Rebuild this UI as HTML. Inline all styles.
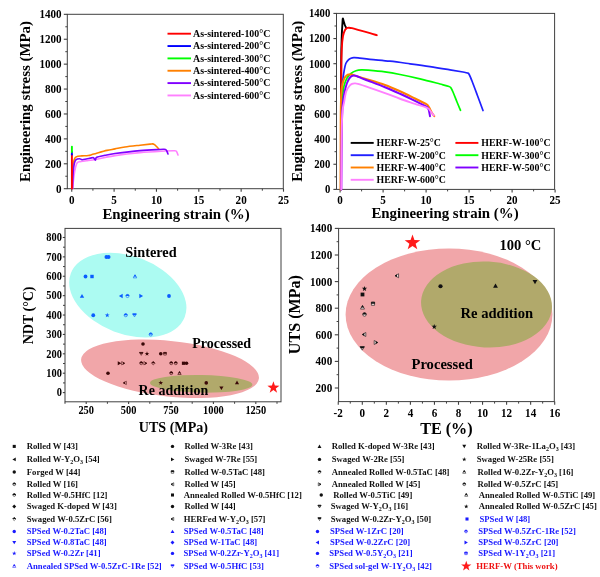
<!DOCTYPE html>
<html><head><meta charset="utf-8"><title>figure</title>
<style>html,body{margin:0;padding:0;background:#fff;}svg{display:block;filter:blur(0.4px);}</style></head><body>
<svg width="600" height="577" viewBox="0 0 600 577" font-family="Liberation Serif" font-weight="bold">
<rect x="0" y="0" width="600" height="577" fill="#fff"/>
<rect x="67.3" y="14.3" width="216.0" height="174.39999999999998" fill="none" stroke="#404040" stroke-width="1.0"/>
<line x1="63.8" y1="188.70" x2="67.3" y2="188.70" stroke="#404040" stroke-width="1.1"/>
<text transform="translate(61.60,192.66) scale(1,1.15)" font-size="11.1" text-anchor="end" fill="#000" >0</text>
<line x1="63.8" y1="163.79" x2="67.3" y2="163.79" stroke="#404040" stroke-width="1.1"/>
<text transform="translate(61.60,167.75) scale(1,1.15)" font-size="11.1" text-anchor="end" fill="#000" >200</text>
<line x1="63.8" y1="138.88" x2="67.3" y2="138.88" stroke="#404040" stroke-width="1.1"/>
<text transform="translate(61.60,142.84) scale(1,1.15)" font-size="11.1" text-anchor="end" fill="#000" >400</text>
<line x1="63.8" y1="113.97" x2="67.3" y2="113.97" stroke="#404040" stroke-width="1.1"/>
<text transform="translate(61.60,117.93) scale(1,1.15)" font-size="11.1" text-anchor="end" fill="#000" >600</text>
<line x1="63.8" y1="89.06" x2="67.3" y2="89.06" stroke="#404040" stroke-width="1.1"/>
<text transform="translate(61.60,93.02) scale(1,1.15)" font-size="11.1" text-anchor="end" fill="#000" >800</text>
<line x1="63.8" y1="64.15" x2="67.3" y2="64.15" stroke="#404040" stroke-width="1.1"/>
<text transform="translate(61.60,68.11) scale(1,1.15)" font-size="11.1" text-anchor="end" fill="#000" >1000</text>
<line x1="63.8" y1="39.24" x2="67.3" y2="39.24" stroke="#404040" stroke-width="1.1"/>
<text transform="translate(61.60,43.20) scale(1,1.15)" font-size="11.1" text-anchor="end" fill="#000" >1200</text>
<line x1="63.8" y1="14.33" x2="67.3" y2="14.33" stroke="#404040" stroke-width="1.1"/>
<text transform="translate(61.60,18.29) scale(1,1.15)" font-size="11.1" text-anchor="end" fill="#000" >1400</text>
<line x1="65.3" y1="176.24" x2="67.3" y2="176.24" stroke="#404040" stroke-width="1"/>
<line x1="65.3" y1="151.33" x2="67.3" y2="151.33" stroke="#404040" stroke-width="1"/>
<line x1="65.3" y1="126.42" x2="67.3" y2="126.42" stroke="#404040" stroke-width="1"/>
<line x1="65.3" y1="101.51" x2="67.3" y2="101.51" stroke="#404040" stroke-width="1"/>
<line x1="65.3" y1="76.60" x2="67.3" y2="76.60" stroke="#404040" stroke-width="1"/>
<line x1="65.3" y1="51.69" x2="67.3" y2="51.69" stroke="#404040" stroke-width="1"/>
<line x1="65.3" y1="26.78" x2="67.3" y2="26.78" stroke="#404040" stroke-width="1"/>
<line x1="71.75" y1="188.7" x2="71.75" y2="191.7" stroke="#404040" stroke-width="1.1"/>
<text transform="translate(71.75,203.56) scale(1,1.15)" font-size="11.1" text-anchor="middle" fill="#000" >0</text>
<line x1="114.10" y1="188.7" x2="114.10" y2="191.7" stroke="#404040" stroke-width="1.1"/>
<text transform="translate(114.10,203.56) scale(1,1.15)" font-size="11.1" text-anchor="middle" fill="#000" >5</text>
<line x1="156.45" y1="188.7" x2="156.45" y2="191.7" stroke="#404040" stroke-width="1.1"/>
<text transform="translate(156.45,203.56) scale(1,1.15)" font-size="11.1" text-anchor="middle" fill="#000" >10</text>
<line x1="198.80" y1="188.7" x2="198.80" y2="191.7" stroke="#404040" stroke-width="1.1"/>
<text transform="translate(198.80,203.56) scale(1,1.15)" font-size="11.1" text-anchor="middle" fill="#000" >15</text>
<line x1="241.15" y1="188.7" x2="241.15" y2="191.7" stroke="#404040" stroke-width="1.1"/>
<text transform="translate(241.15,203.56) scale(1,1.15)" font-size="11.1" text-anchor="middle" fill="#000" >20</text>
<line x1="283.50" y1="188.7" x2="283.50" y2="191.7" stroke="#404040" stroke-width="1.1"/>
<text transform="translate(283.50,203.56) scale(1,1.15)" font-size="11.1" text-anchor="middle" fill="#000" >25</text>
<line x1="92.92" y1="188.7" x2="92.92" y2="190.7" stroke="#404040" stroke-width="1"/>
<line x1="135.28" y1="188.7" x2="135.28" y2="190.7" stroke="#404040" stroke-width="1"/>
<line x1="177.62" y1="188.7" x2="177.62" y2="190.7" stroke="#404040" stroke-width="1"/>
<line x1="219.97" y1="188.7" x2="219.97" y2="190.7" stroke="#404040" stroke-width="1"/>
<line x1="262.33" y1="188.7" x2="262.33" y2="190.7" stroke="#404040" stroke-width="1"/>
<text x="176.00" y="219.00" font-size="14.9" text-anchor="middle" fill="#000" >Engineering strain (%)</text>
<text transform="translate(30.40,101.50) rotate(-90)" font-size="14.9" text-anchor="middle" fill="#000">Engineering stress (MPa)</text>
<path d="M72.30,188.50 C72.38,185.75 72.58,176.42 72.80,172.00 C73.02,167.58 73.18,164.40 73.60,162.00 C74.02,159.60 74.58,158.57 75.30,157.60 C76.02,156.63 76.78,156.48 77.90,156.20 C79.02,155.92 80.27,156.02 82.00,155.90 C83.73,155.78 86.63,155.72 88.30,155.50 C89.97,155.28 90.60,154.98 92.00,154.60 C93.40,154.22 94.20,153.90 96.70,153.20 C99.20,152.50 103.95,151.12 107.00,150.40 C110.05,149.68 112.00,149.47 115.00,148.90 C118.00,148.33 120.83,147.62 125.00,147.00 C129.17,146.38 135.83,145.68 140.00,145.20 C144.17,144.72 147.92,144.32 150.00,144.10 C152.08,143.88 151.75,143.82 152.50,143.90 C153.25,143.98 153.83,144.17 154.50,144.60 C155.17,145.03 155.78,145.77 156.50,146.50 C157.22,147.23 158.42,148.58 158.80,149.00" fill="none" stroke="#ff8000" stroke-width="1.6" stroke-linejoin="round" stroke-linecap="round"/>
<path d="M72.60,188.50 C72.83,186.42 73.50,179.58 74.00,176.00 C74.50,172.42 75.03,169.23 75.60,167.00 C76.17,164.77 76.67,163.50 77.40,162.60 C78.13,161.70 78.53,161.90 80.00,161.60 C81.47,161.30 83.47,161.20 86.25,160.80 C89.03,160.40 91.91,160.07 96.70,159.20 C101.49,158.33 107.78,156.70 115.00,155.60 C122.22,154.50 131.67,153.37 140.00,152.60 C148.33,151.83 159.25,151.32 165.00,151.00 C170.75,150.68 172.58,150.60 174.50,150.70 C176.42,150.80 175.92,150.88 176.50,151.60 C177.08,152.32 177.75,154.43 178.00,155.00" fill="none" stroke="#ff80ff" stroke-width="1.6" stroke-linejoin="round" stroke-linecap="round"/>
<path d="M72.50,188.50 C72.62,185.75 72.90,176.17 73.20,172.00 C73.50,167.83 73.87,165.53 74.30,163.50 C74.73,161.47 74.93,160.60 75.80,159.80 C76.67,159.00 78.47,158.72 79.50,158.70 C80.53,158.68 80.88,159.65 82.00,159.70 C83.12,159.75 84.67,159.30 86.25,159.00 C87.83,158.70 90.29,158.10 91.50,157.90 C92.71,157.70 92.85,157.43 93.50,157.80 C94.15,158.17 94.87,160.18 95.40,160.10 C95.93,160.02 95.10,158.10 96.70,157.30 C98.30,156.50 101.95,155.93 105.00,155.30 C108.05,154.67 109.17,154.28 115.00,153.50 C120.83,152.72 132.50,151.27 140.00,150.60 C147.50,149.93 155.75,149.70 160.00,149.50 C164.25,149.30 164.33,149.07 165.50,149.40 C166.67,149.73 166.58,150.73 167.00,151.50 C167.42,152.27 167.83,153.58 168.00,154.00" fill="none" stroke="#8000ff" stroke-width="1.6" stroke-linejoin="round" stroke-linecap="round"/>
<polyline points="71.90,188.50 71.90,154.60" fill="none" stroke="#ff0000" stroke-width="1.9" stroke-linejoin="round" stroke-linecap="round"/>
<polyline points="71.90,154.60 71.90,152.00" fill="none" stroke="#0000ff" stroke-width="1.9" stroke-linejoin="round" stroke-linecap="round"/>
<polyline points="71.90,152.00 71.90,146.80" fill="none" stroke="#00ff00" stroke-width="1.9" stroke-linejoin="round" stroke-linecap="round"/>
<line x1="167.5" y1="33.70" x2="191" y2="33.70" stroke="#ff0000" stroke-width="1.9"/>
<text x="193.00" y="37.00" font-size="9.9" text-anchor="start" fill="#000" >As-sintered-100°C</text>
<line x1="167.5" y1="46.05" x2="191" y2="46.05" stroke="#0000ff" stroke-width="1.9"/>
<text x="193.00" y="49.35" font-size="9.9" text-anchor="start" fill="#000" >As-sintered-200°C</text>
<line x1="167.5" y1="58.40" x2="191" y2="58.40" stroke="#00ff00" stroke-width="1.9"/>
<text x="193.00" y="61.70" font-size="9.9" text-anchor="start" fill="#000" >As-sintered-300°C</text>
<line x1="167.5" y1="70.75" x2="191" y2="70.75" stroke="#ff8000" stroke-width="1.9"/>
<text x="193.00" y="74.05" font-size="9.9" text-anchor="start" fill="#000" >As-sintered-400°C</text>
<line x1="167.5" y1="83.10" x2="191" y2="83.10" stroke="#8000ff" stroke-width="1.9"/>
<text x="193.00" y="86.40" font-size="9.9" text-anchor="start" fill="#000" >As-sintered-500°C</text>
<line x1="167.5" y1="95.45" x2="191" y2="95.45" stroke="#ff80ff" stroke-width="1.9"/>
<text x="193.00" y="98.75" font-size="9.9" text-anchor="start" fill="#000" >As-sintered-600°C</text>
<rect x="336.5" y="13.4" width="218.10000000000002" height="176.0" fill="none" stroke="#404040" stroke-width="1.0"/>
<line x1="333.4" y1="189.40" x2="336.5" y2="189.40" stroke="#404040" stroke-width="1.1"/>
<text transform="translate(330.30,193.23) scale(1,1.15)" font-size="10.7" text-anchor="end" fill="#000" >0</text>
<line x1="333.4" y1="164.26" x2="336.5" y2="164.26" stroke="#404040" stroke-width="1.1"/>
<text transform="translate(330.30,168.09) scale(1,1.15)" font-size="10.7" text-anchor="end" fill="#000" >200</text>
<line x1="333.4" y1="139.12" x2="336.5" y2="139.12" stroke="#404040" stroke-width="1.1"/>
<text transform="translate(330.30,142.95) scale(1,1.15)" font-size="10.7" text-anchor="end" fill="#000" >400</text>
<line x1="333.4" y1="113.98" x2="336.5" y2="113.98" stroke="#404040" stroke-width="1.1"/>
<text transform="translate(330.30,117.81) scale(1,1.15)" font-size="10.7" text-anchor="end" fill="#000" >600</text>
<line x1="333.4" y1="88.84" x2="336.5" y2="88.84" stroke="#404040" stroke-width="1.1"/>
<text transform="translate(330.30,92.67) scale(1,1.15)" font-size="10.7" text-anchor="end" fill="#000" >800</text>
<line x1="333.4" y1="63.70" x2="336.5" y2="63.70" stroke="#404040" stroke-width="1.1"/>
<text transform="translate(330.30,67.53) scale(1,1.15)" font-size="10.7" text-anchor="end" fill="#000" >1000</text>
<line x1="333.4" y1="38.56" x2="336.5" y2="38.56" stroke="#404040" stroke-width="1.1"/>
<text transform="translate(330.30,42.39) scale(1,1.15)" font-size="10.7" text-anchor="end" fill="#000" >1200</text>
<line x1="333.4" y1="13.42" x2="336.5" y2="13.42" stroke="#404040" stroke-width="1.1"/>
<text transform="translate(330.30,17.25) scale(1,1.15)" font-size="10.7" text-anchor="end" fill="#000" >1400</text>
<line x1="334.5" y1="176.83" x2="336.5" y2="176.83" stroke="#404040" stroke-width="1"/>
<line x1="334.5" y1="151.69" x2="336.5" y2="151.69" stroke="#404040" stroke-width="1"/>
<line x1="334.5" y1="126.55" x2="336.5" y2="126.55" stroke="#404040" stroke-width="1"/>
<line x1="334.5" y1="101.41" x2="336.5" y2="101.41" stroke="#404040" stroke-width="1"/>
<line x1="334.5" y1="76.27" x2="336.5" y2="76.27" stroke="#404040" stroke-width="1"/>
<line x1="334.5" y1="51.13" x2="336.5" y2="51.13" stroke="#404040" stroke-width="1"/>
<line x1="334.5" y1="25.99" x2="336.5" y2="25.99" stroke="#404040" stroke-width="1"/>
<line x1="340.10" y1="189.4" x2="340.10" y2="192.4" stroke="#404040" stroke-width="1.1"/>
<text transform="translate(340.10,204.26) scale(1,1.15)" font-size="11.1" text-anchor="middle" fill="#000" >0</text>
<line x1="383.10" y1="189.4" x2="383.10" y2="192.4" stroke="#404040" stroke-width="1.1"/>
<text transform="translate(383.10,204.26) scale(1,1.15)" font-size="11.1" text-anchor="middle" fill="#000" >5</text>
<line x1="426.10" y1="189.4" x2="426.10" y2="192.4" stroke="#404040" stroke-width="1.1"/>
<text transform="translate(426.10,204.26) scale(1,1.15)" font-size="11.1" text-anchor="middle" fill="#000" >10</text>
<line x1="469.10" y1="189.4" x2="469.10" y2="192.4" stroke="#404040" stroke-width="1.1"/>
<text transform="translate(469.10,204.26) scale(1,1.15)" font-size="11.1" text-anchor="middle" fill="#000" >15</text>
<line x1="512.10" y1="189.4" x2="512.10" y2="192.4" stroke="#404040" stroke-width="1.1"/>
<text transform="translate(512.10,204.26) scale(1,1.15)" font-size="11.1" text-anchor="middle" fill="#000" >20</text>
<line x1="555.10" y1="189.4" x2="555.10" y2="192.4" stroke="#404040" stroke-width="1.1"/>
<text transform="translate(555.10,204.26) scale(1,1.15)" font-size="11.1" text-anchor="middle" fill="#000" >25</text>
<line x1="361.60" y1="189.4" x2="361.60" y2="191.4" stroke="#404040" stroke-width="1"/>
<line x1="404.60" y1="189.4" x2="404.60" y2="191.4" stroke="#404040" stroke-width="1"/>
<line x1="447.60" y1="189.4" x2="447.60" y2="191.4" stroke="#404040" stroke-width="1"/>
<line x1="490.60" y1="189.4" x2="490.60" y2="191.4" stroke="#404040" stroke-width="1"/>
<line x1="533.60" y1="189.4" x2="533.60" y2="191.4" stroke="#404040" stroke-width="1"/>
<text x="445.00" y="217.50" font-size="14.9" text-anchor="middle" fill="#000" >Engineering strain (%)</text>
<text transform="translate(301.70,101.20) rotate(-90)" font-size="14.9" text-anchor="middle" fill="#000">Engineering stress (MPa)</text>
<path d="M340.90,189.40 C340.92,177.83 340.95,141.57 341.00,120.00 C341.05,98.43 341.07,74.17 341.20,60.00 C341.33,45.83 341.60,41.00 341.80,35.00 C342.00,29.00 342.23,26.73 342.40,24.00 C342.57,21.27 342.60,19.10 342.80,18.60 C343.00,18.10 343.27,19.93 343.60,21.00 C343.93,22.07 344.37,23.88 344.80,25.00 C345.23,26.12 345.97,27.25 346.20,27.70" fill="none" stroke="#000000" stroke-width="1.9" stroke-linejoin="round" stroke-linecap="round"/>
<path d="M340.90,189.40 C340.93,177.83 341.03,139.90 341.10,120.00 C341.17,100.10 341.18,82.00 341.30,70.00 C341.42,58.00 341.52,53.67 341.80,48.00 C342.08,42.33 342.47,39.00 343.00,36.00 C343.53,33.00 344.33,31.33 345.00,30.00 C345.67,28.67 346.33,28.38 347.00,28.00 C347.67,27.62 348.17,27.67 349.00,27.70 C349.83,27.73 350.17,27.75 352.00,28.20 C353.83,28.65 357.00,29.57 360.00,30.40 C363.00,31.23 367.20,32.40 370.00,33.20 C372.80,34.00 375.67,34.87 376.80,35.20" fill="none" stroke="#ff0000" stroke-width="1.9" stroke-linejoin="round" stroke-linecap="round"/>
<path d="M340.90,189.40 C340.97,177.83 341.13,136.57 341.30,120.00 C341.47,103.43 341.67,96.53 341.90,90.00 C342.13,83.47 342.32,84.07 342.70,80.80 C343.08,77.53 343.68,73.28 344.20,70.40 C344.72,67.52 345.10,65.27 345.80,63.50 C346.50,61.73 347.53,60.68 348.40,59.80 C349.27,58.92 350.10,58.57 351.00,58.20 C351.90,57.83 352.63,57.67 353.80,57.60 C354.97,57.53 355.30,57.52 358.00,57.80 C360.70,58.08 364.67,58.73 370.00,59.30 C375.33,59.87 383.33,60.45 390.00,61.20 C396.67,61.95 403.33,62.90 410.00,63.80 C416.67,64.70 423.33,65.60 430.00,66.60 C436.67,67.60 444.50,68.90 450.00,69.80 C455.50,70.70 460.08,71.47 463.00,72.00 C465.92,72.53 466.47,72.58 467.50,73.00 C468.53,73.42 468.45,73.17 469.20,74.50 C469.95,75.83 470.53,77.25 472.00,81.00 C473.47,84.75 476.17,92.08 478.00,97.00 C479.83,101.92 482.17,108.25 483.00,110.50" fill="none" stroke="#2020ff" stroke-width="1.7" stroke-linejoin="round" stroke-linecap="round"/>
<path d="M340.90,189.40 C340.98,179.50 341.17,144.90 341.40,130.00 C341.63,115.10 341.87,107.33 342.30,100.00 C342.73,92.67 343.22,89.67 344.00,86.00 C344.78,82.33 345.83,80.08 347.00,78.00 C348.17,75.92 349.50,74.70 351.00,73.50 C352.50,72.30 354.27,71.40 356.00,70.80 C357.73,70.20 359.40,70.00 361.40,69.90 C363.40,69.80 364.07,69.86 368.00,70.20 C371.93,70.54 379.67,71.23 385.00,71.95 C390.33,72.67 394.17,73.36 400.00,74.50 C405.83,75.64 413.33,77.22 420.00,78.80 C426.67,80.38 435.17,82.72 440.00,84.00 C444.83,85.28 447.17,85.83 449.00,86.50 C450.83,87.17 450.33,87.08 451.00,88.00 C451.67,88.92 452.00,89.67 453.00,92.00 C454.00,94.33 455.75,98.95 457.00,102.00 C458.25,105.05 459.92,108.92 460.50,110.30" fill="none" stroke="#00ff00" stroke-width="1.7" stroke-linejoin="round" stroke-linecap="round"/>
<path d="M340.60,189.40 C340.62,177.83 340.60,135.73 340.70,120.00 C340.80,104.27 340.90,101.00 341.20,95.00 C341.50,89.00 341.95,86.83 342.50,84.00 C343.05,81.17 343.75,79.47 344.50,78.00 C345.25,76.53 346.27,75.78 347.00,75.20 C347.73,74.62 348.23,74.65 348.90,74.55 C349.57,74.45 349.98,74.42 351.00,74.60 C352.02,74.77 352.67,74.93 355.00,75.60 C357.33,76.27 360.00,77.04 365.00,78.60 C370.00,80.16 379.17,82.84 385.00,84.95 C390.83,87.06 395.00,88.99 400.00,91.25 C405.00,93.51 410.83,96.46 415.00,98.50 C419.17,100.54 422.92,102.42 425.00,103.50 C427.08,104.58 426.75,104.25 427.50,105.00 C428.25,105.75 428.75,106.67 429.50,108.00 C430.25,109.33 431.20,111.63 432.00,113.00 C432.80,114.37 433.92,115.67 434.30,116.20" fill="none" stroke="#ff8000" stroke-width="2.0" stroke-linejoin="round" stroke-linecap="round"/>
<path d="M341.30,189.40 C341.42,177.83 341.68,134.90 342.00,120.00 C342.32,105.10 342.74,104.80 343.20,100.00 C343.66,95.20 344.12,94.03 344.75,91.20 C345.38,88.37 346.12,85.28 347.00,83.00 C347.88,80.72 348.90,78.73 350.00,77.50 C351.10,76.27 352.43,75.82 353.60,75.60 C354.77,75.38 355.10,75.55 357.00,76.20 C358.90,76.85 360.33,77.67 365.00,79.50 C369.67,81.33 379.17,84.83 385.00,87.20 C390.83,89.58 395.00,91.48 400.00,93.75 C405.00,96.02 410.83,98.76 415.00,100.80 C419.17,102.84 422.92,104.88 425.00,106.00 C427.08,107.12 426.87,106.83 427.50,107.50 C428.13,108.17 428.38,108.55 428.80,110.00 C429.22,111.45 429.80,115.17 430.00,116.20" fill="none" stroke="#8000ff" stroke-width="2.0" stroke-linejoin="round" stroke-linecap="round"/>
<path d="M341.30,189.40 C341.42,177.83 341.52,134.63 342.00,120.00 C342.48,105.37 343.48,106.40 344.20,101.60 C344.92,96.80 345.43,93.80 346.30,91.20 C347.17,88.60 348.45,87.22 349.40,86.00 C350.35,84.78 351.13,84.33 352.00,83.90 C352.87,83.47 353.60,83.40 354.60,83.40 C355.60,83.40 355.43,83.17 358.00,83.90 C360.57,84.63 365.50,86.28 370.00,87.80 C374.50,89.32 380.00,91.22 385.00,93.05 C390.00,94.88 395.00,96.96 400.00,98.75 C405.00,100.54 410.42,102.26 415.00,103.80 C419.58,105.34 425.00,106.88 427.50,108.00 C430.00,109.12 428.95,109.25 430.00,110.50 C431.05,111.75 433.17,114.67 433.80,115.50" fill="none" stroke="#ff80ff" stroke-width="1.9" stroke-linejoin="round" stroke-linecap="round"/>
<line x1="350.7" y1="142.90" x2="373.7" y2="142.90" stroke="#000000" stroke-width="1.9"/>
<text x="376.60" y="146.20" font-size="9.85" text-anchor="start" fill="#000" >HERF-W-25°C</text>
<line x1="455.4" y1="142.90" x2="478.4" y2="142.90" stroke="#ff0000" stroke-width="1.9"/>
<text x="481.30" y="146.20" font-size="9.85" text-anchor="start" fill="#000" >HERF-W-100°C</text>
<line x1="350.7" y1="155.20" x2="373.7" y2="155.20" stroke="#2020ff" stroke-width="1.9"/>
<text x="376.60" y="158.50" font-size="9.85" text-anchor="start" fill="#000" >HERF-W-200°C</text>
<line x1="455.4" y1="155.20" x2="478.4" y2="155.20" stroke="#00ff00" stroke-width="1.9"/>
<text x="481.30" y="158.50" font-size="9.85" text-anchor="start" fill="#000" >HERF-W-300°C</text>
<line x1="350.7" y1="167.50" x2="373.7" y2="167.50" stroke="#ff8000" stroke-width="1.9"/>
<text x="376.60" y="170.80" font-size="9.85" text-anchor="start" fill="#000" >HERF-W-400°C</text>
<line x1="455.4" y1="167.50" x2="478.4" y2="167.50" stroke="#8000ff" stroke-width="1.9"/>
<text x="481.30" y="170.80" font-size="9.85" text-anchor="start" fill="#000" >HERF-W-500°C</text>
<line x1="350.7" y1="179.80" x2="373.7" y2="179.80" stroke="#ff80ff" stroke-width="1.9"/>
<text x="376.60" y="183.10" font-size="9.85" text-anchor="start" fill="#000" >HERF-W-600°C</text>
<rect x="65" y="228.4" width="216" height="173.4" fill="none" stroke="#404040" stroke-width="1.0"/>
<ellipse cx="127.8" cy="295.1" rx="61" ry="38.9" transform="rotate(21 127.8 295.1)" fill="#acfbf2"/>
<ellipse cx="170" cy="368.8" rx="89.4" ry="27.8" transform="rotate(6.2 170 369)" fill="#f1a6a9"/>
<ellipse cx="201.2" cy="383.8" rx="51.2" ry="8.8" transform="rotate(1 201.2 383.8)" fill="#b1a96b"/>
<line x1="62.8" y1="392.60" x2="65" y2="392.60" stroke="#404040" stroke-width="1.1"/>
<text transform="translate(61.90,396.33) scale(1,1.15)" font-size="10.4" text-anchor="end" fill="#000" >0</text>
<line x1="62.8" y1="373.21" x2="65" y2="373.21" stroke="#404040" stroke-width="1.1"/>
<text transform="translate(61.90,376.94) scale(1,1.15)" font-size="10.4" text-anchor="end" fill="#000" >100</text>
<line x1="62.8" y1="353.82" x2="65" y2="353.82" stroke="#404040" stroke-width="1.1"/>
<text transform="translate(61.90,357.55) scale(1,1.15)" font-size="10.4" text-anchor="end" fill="#000" >200</text>
<line x1="62.8" y1="334.43" x2="65" y2="334.43" stroke="#404040" stroke-width="1.1"/>
<text transform="translate(61.90,338.16) scale(1,1.15)" font-size="10.4" text-anchor="end" fill="#000" >300</text>
<line x1="62.8" y1="315.04" x2="65" y2="315.04" stroke="#404040" stroke-width="1.1"/>
<text transform="translate(61.90,318.77) scale(1,1.15)" font-size="10.4" text-anchor="end" fill="#000" >400</text>
<line x1="62.8" y1="295.65" x2="65" y2="295.65" stroke="#404040" stroke-width="1.1"/>
<text transform="translate(61.90,299.38) scale(1,1.15)" font-size="10.4" text-anchor="end" fill="#000" >500</text>
<line x1="62.8" y1="276.26" x2="65" y2="276.26" stroke="#404040" stroke-width="1.1"/>
<text transform="translate(61.90,279.99) scale(1,1.15)" font-size="10.4" text-anchor="end" fill="#000" >600</text>
<line x1="62.8" y1="256.87" x2="65" y2="256.87" stroke="#404040" stroke-width="1.1"/>
<text transform="translate(61.90,260.60) scale(1,1.15)" font-size="10.4" text-anchor="end" fill="#000" >700</text>
<line x1="62.8" y1="237.48" x2="65" y2="237.48" stroke="#404040" stroke-width="1.1"/>
<text transform="translate(61.90,241.21) scale(1,1.15)" font-size="10.4" text-anchor="end" fill="#000" >800</text>
<line x1="63" y1="382.91" x2="65" y2="382.91" stroke="#404040" stroke-width="1"/>
<line x1="63" y1="363.52" x2="65" y2="363.52" stroke="#404040" stroke-width="1"/>
<line x1="63" y1="344.12" x2="65" y2="344.12" stroke="#404040" stroke-width="1"/>
<line x1="63" y1="324.74" x2="65" y2="324.74" stroke="#404040" stroke-width="1"/>
<line x1="63" y1="305.35" x2="65" y2="305.35" stroke="#404040" stroke-width="1"/>
<line x1="63" y1="285.96" x2="65" y2="285.96" stroke="#404040" stroke-width="1"/>
<line x1="63" y1="266.57" x2="65" y2="266.57" stroke="#404040" stroke-width="1"/>
<line x1="63" y1="247.18" x2="65" y2="247.18" stroke="#404040" stroke-width="1"/>
<line x1="86.20" y1="401.8" x2="86.20" y2="404.0" stroke="#404040" stroke-width="1.1"/>
<text transform="translate(86.20,413.63) scale(1,1.15)" font-size="10.4" text-anchor="middle" fill="#000" >250</text>
<line x1="128.60" y1="401.8" x2="128.60" y2="404.0" stroke="#404040" stroke-width="1.1"/>
<text transform="translate(128.60,413.63) scale(1,1.15)" font-size="10.4" text-anchor="middle" fill="#000" >500</text>
<line x1="171.00" y1="401.8" x2="171.00" y2="404.0" stroke="#404040" stroke-width="1.1"/>
<text transform="translate(171.00,413.63) scale(1,1.15)" font-size="10.4" text-anchor="middle" fill="#000" >750</text>
<line x1="213.40" y1="401.8" x2="213.40" y2="404.0" stroke="#404040" stroke-width="1.1"/>
<text transform="translate(213.40,413.63) scale(1,1.15)" font-size="10.4" text-anchor="middle" fill="#000" >1000</text>
<line x1="255.80" y1="401.8" x2="255.80" y2="404.0" stroke="#404040" stroke-width="1.1"/>
<text transform="translate(255.80,413.63) scale(1,1.15)" font-size="10.4" text-anchor="middle" fill="#000" >1250</text>
<line x1="65.00" y1="401.8" x2="65.00" y2="403.8" stroke="#404040" stroke-width="1"/>
<line x1="107.40" y1="401.8" x2="107.40" y2="403.8" stroke="#404040" stroke-width="1"/>
<line x1="149.80" y1="401.8" x2="149.80" y2="403.8" stroke="#404040" stroke-width="1"/>
<line x1="192.20" y1="401.8" x2="192.20" y2="403.8" stroke="#404040" stroke-width="1"/>
<line x1="234.60" y1="401.8" x2="234.60" y2="403.8" stroke="#404040" stroke-width="1"/>
<line x1="277.00" y1="401.8" x2="277.00" y2="403.8" stroke="#404040" stroke-width="1"/>
<text x="173.40" y="431.70" font-size="14.05" text-anchor="middle" fill="#000" >UTS (MPa)</text>
<text transform="translate(33.30,315.40) rotate(-90)" font-size="14.0" text-anchor="middle" fill="#000">NDT (°C)</text>
<circle cx="106.40" cy="257.00" r="1.90" fill="#0a5cff"/>
<circle cx="108.60" cy="257.00" r="1.90" fill="#0a5cff"/>
<circle cx="85.50" cy="276.50" r="1.90" fill="#0a5cff"/>
<polygon points="90.29,274.79 93.71,274.79 93.71,278.21 90.29,278.21" fill="#0a5cff"/>
<polygon points="135.00,274.80 136.78,277.89 133.22,277.89" fill="#acfbf2" stroke="#0a5cff" stroke-width="0.6"/>
<clipPath id="h1"><rect x="131.90" y="273.40" width="6.20" height="3.10"/></clipPath>
<polygon points="135.00,274.80 136.78,277.89 133.22,277.89" fill="#0a5cff" stroke="#0a5cff" stroke-width="0.6" clip-path="url(#h1)"/>
<polygon points="82.00,293.91 84.19,297.71 79.81,297.71" fill="#0a5cff"/>
<polygon points="118.91,296.00 122.71,293.81 122.71,298.19" fill="#0a5cff"/>
<circle cx="127.50" cy="296.00" r="1.55" fill="#acfbf2" stroke="#0a5cff" stroke-width="0.6"/>
<clipPath id="h2"><rect x="124.40" y="292.90" width="6.20" height="3.10"/></clipPath>
<circle cx="127.50" cy="296.00" r="1.55" fill="#0a5cff" stroke="#0a5cff" stroke-width="0.6" clip-path="url(#h2)"/>
<polygon points="143.09,296.00 139.29,293.81 139.29,298.19" fill="#0a5cff"/>
<circle cx="169.00" cy="296.00" r="1.90" fill="#0a5cff"/>
<circle cx="93.25" cy="315.25" r="1.90" fill="#0a5cff"/>
<polygon points="107.25,312.69 107.85,314.42 109.69,314.46 108.23,315.57 108.76,317.33 107.25,316.28 105.74,317.33 106.27,315.57 104.81,314.46 106.65,314.42" fill="#0a5cff"/>
<circle cx="125.75" cy="315.25" r="1.55" fill="#acfbf2" stroke="#0a5cff" stroke-width="0.6"/>
<clipPath id="h3"><rect x="122.65" y="312.15" width="6.20" height="3.10"/></clipPath>
<circle cx="125.75" cy="315.25" r="1.55" fill="#0a5cff" stroke="#0a5cff" stroke-width="0.6" clip-path="url(#h3)"/>
<polygon points="134.50,316.95 136.28,313.86 132.72,313.86" fill="#acfbf2" stroke="#0a5cff" stroke-width="0.6"/>
<clipPath id="h4"><rect x="131.40" y="312.15" width="6.20" height="3.10"/></clipPath>
<polygon points="134.50,316.95 136.28,313.86 132.72,313.86" fill="#0a5cff" stroke="#0a5cff" stroke-width="0.6" clip-path="url(#h4)"/>
<circle cx="150.75" cy="334.50" r="1.55" fill="#acfbf2" stroke="#0a5cff" stroke-width="0.6"/>
<clipPath id="h5"><rect x="147.65" y="331.40" width="6.20" height="3.10"/></clipPath>
<circle cx="150.75" cy="334.50" r="1.55" fill="#0a5cff" stroke="#0a5cff" stroke-width="0.6" clip-path="url(#h5)"/>
<circle cx="143.00" cy="344.00" r="1.80" fill="#3a0808"/>
<polygon points="141.25,355.35 142.92,352.44 139.58,352.44" fill="#f1a6a9" stroke="#3a0808" stroke-width="0.6"/>
<clipPath id="h6"><rect x="138.35" y="350.85" width="5.80" height="2.90"/></clipPath>
<polygon points="141.25,355.35 142.92,352.44 139.58,352.44" fill="#3a0808" stroke="#3a0808" stroke-width="0.6" clip-path="url(#h6)"/>
<polygon points="147.00,351.32 147.57,352.96 149.31,353.00 147.92,354.05 148.43,355.72 147.00,354.72 145.57,355.72 146.08,354.05 144.69,353.00 146.43,352.96" fill="#3a0808"/>
<circle cx="160.75" cy="353.75" r="1.80" fill="#3a0808"/>
<polygon points="163.69,352.44 166.31,352.44 166.31,355.06 163.69,355.06" fill="#f1a6a9" stroke="#3a0808" stroke-width="0.6"/>
<clipPath id="h7"><rect x="162.10" y="350.85" width="5.80" height="2.90"/></clipPath>
<polygon points="163.69,352.44 166.31,352.44 166.31,355.06 163.69,355.06" fill="#3a0808" stroke="#3a0808" stroke-width="0.6" clip-path="url(#h7)"/>
<polygon points="121.38,363.25 117.78,361.18 117.78,365.32" fill="#3a0808"/>
<polygon points="124.59,363.25 121.69,361.58 121.69,364.92" fill="#f1a6a9" stroke="#3a0808" stroke-width="0.6"/>
<clipPath id="h8"><rect x="123.00" y="360.35" width="2.90" height="5.80"/></clipPath>
<polygon points="124.59,363.25 121.69,361.58 121.69,364.92" fill="#3a0808" stroke="#3a0808" stroke-width="0.6" clip-path="url(#h8)"/>
<circle cx="141.25" cy="363.25" r="1.45" fill="#f1a6a9" stroke="#3a0808" stroke-width="0.6"/>
<clipPath id="h9"><rect x="138.35" y="360.35" width="5.80" height="2.90"/></clipPath>
<circle cx="141.25" cy="363.25" r="1.45" fill="#3a0808" stroke="#3a0808" stroke-width="0.6" clip-path="url(#h9)"/>
<polygon points="146.79,363.25 143.89,361.58 143.89,364.92" fill="#f1a6a9" stroke="#3a0808" stroke-width="0.6"/>
<clipPath id="h10"><rect x="145.20" y="360.35" width="2.90" height="5.80"/></clipPath>
<polygon points="146.79,363.25 143.89,361.58 143.89,364.92" fill="#3a0808" stroke="#3a0808" stroke-width="0.6" clip-path="url(#h10)"/>
<polygon points="153.25,361.58 154.92,363.25 153.25,364.92 151.58,363.25" fill="#f1a6a9" stroke="#3a0808" stroke-width="0.6"/>
<clipPath id="h11"><rect x="150.35" y="360.35" width="5.80" height="2.90"/></clipPath>
<polygon points="153.25,361.58 154.92,363.25 153.25,364.92 151.58,363.25" fill="#3a0808" stroke="#3a0808" stroke-width="0.6" clip-path="url(#h11)"/>
<circle cx="171.25" cy="363.25" r="1.45" fill="#f1a6a9" stroke="#3a0808" stroke-width="0.6"/>
<clipPath id="h12"><rect x="168.35" y="360.35" width="5.80" height="2.90"/></clipPath>
<circle cx="171.25" cy="363.25" r="1.45" fill="#3a0808" stroke="#3a0808" stroke-width="0.6" clip-path="url(#h12)"/>
<circle cx="175.75" cy="363.25" r="1.45" fill="#f1a6a9" stroke="#3a0808" stroke-width="0.6"/>
<clipPath id="h13"><rect x="172.85" y="360.35" width="5.80" height="2.90"/></clipPath>
<circle cx="175.75" cy="363.25" r="1.45" fill="#3a0808" stroke="#3a0808" stroke-width="0.6" clip-path="url(#h13)"/>
<polygon points="181.88,361.63 185.12,361.63 185.12,364.87 181.88,364.87" fill="#3a0808"/>
<circle cx="186.50" cy="363.25" r="1.80" fill="#3a0808"/>
<circle cx="108.00" cy="373.20" r="1.80" fill="#3a0808"/>
<circle cx="171.25" cy="373.20" r="1.45" fill="#f1a6a9" stroke="#3a0808" stroke-width="0.6"/>
<clipPath id="h14"><rect x="168.35" y="370.30" width="5.80" height="2.90"/></clipPath>
<circle cx="171.25" cy="373.20" r="1.45" fill="#3a0808" stroke="#3a0808" stroke-width="0.6" clip-path="url(#h14)"/>
<polygon points="179.50,371.60 181.17,374.50 177.83,374.50" fill="#f1a6a9" stroke="#3a0808" stroke-width="0.6"/>
<clipPath id="h15"><rect x="176.60" y="370.30" width="5.80" height="2.90"/></clipPath>
<polygon points="179.50,371.60 181.17,374.50 177.83,374.50" fill="#3a0808" stroke="#3a0808" stroke-width="0.6" clip-path="url(#h15)"/>
<polygon points="123.41,382.90 126.31,381.23 126.31,384.57" fill="#f1a6a9" stroke="#3a0808" stroke-width="0.6"/>
<clipPath id="h16"><rect x="122.10" y="380.00" width="2.90" height="5.80"/></clipPath>
<polygon points="123.41,382.90 126.31,381.23 126.31,384.57" fill="#3a0808" stroke="#3a0808" stroke-width="0.6" clip-path="url(#h16)"/>
<polygon points="160.75,380.47 161.32,382.11 163.06,382.15 161.67,383.20 162.18,384.87 160.75,383.87 159.32,384.87 159.83,383.20 158.44,382.15 160.18,382.11" fill="#3a0808"/>
<circle cx="206.25" cy="382.90" r="1.80" fill="#3a0808"/>
<polygon points="221.40,390.08 223.47,386.48 219.33,386.48" fill="#3a0808"/>
<polygon points="237.00,380.62 239.07,384.22 234.93,384.22" fill="#3a0808"/>
<polygon points="273.40,381.30 274.88,385.56 279.39,385.65 275.80,388.38 277.10,392.70 273.40,390.12 269.70,392.70 271.00,388.38 267.41,385.65 271.92,385.56" fill="#ff1a1a"/>
<text transform="translate(125.30,257.30) scale(1,1.07)" font-size="14.3" text-anchor="start" fill="#000" >Sintered</text>
<text transform="translate(192.30,347.50) scale(1,1.07)" font-size="14.0" text-anchor="start" fill="#000" >Processed</text>
<text transform="translate(138.60,395.30) scale(1,1.07)" font-size="14.0" text-anchor="start" fill="#000" >Re addition</text>
<rect x="338.6" y="228.4" width="215.69999999999993" height="173.20000000000002" fill="none" stroke="#404040" stroke-width="1.0"/>
<ellipse cx="449" cy="314.5" rx="103.4" ry="66" fill="#f1a6a9"/>
<ellipse cx="486.5" cy="304.5" rx="65.5" ry="43" transform="rotate(3 486.5 304.5)" fill="#b1a96b"/>
<line x1="334.8" y1="388.00" x2="338.6" y2="388.00" stroke="#404040" stroke-width="1.1"/>
<text transform="translate(332.20,391.96) scale(1,1.15)" font-size="11.1" text-anchor="end" fill="#000" >200</text>
<line x1="334.8" y1="361.40" x2="338.6" y2="361.40" stroke="#404040" stroke-width="1.1"/>
<text transform="translate(332.20,365.36) scale(1,1.15)" font-size="11.1" text-anchor="end" fill="#000" >400</text>
<line x1="334.8" y1="334.80" x2="338.6" y2="334.80" stroke="#404040" stroke-width="1.1"/>
<text transform="translate(332.20,338.76) scale(1,1.15)" font-size="11.1" text-anchor="end" fill="#000" >600</text>
<line x1="334.8" y1="308.20" x2="338.6" y2="308.20" stroke="#404040" stroke-width="1.1"/>
<text transform="translate(332.20,312.16) scale(1,1.15)" font-size="11.1" text-anchor="end" fill="#000" >800</text>
<line x1="334.8" y1="281.60" x2="338.6" y2="281.60" stroke="#404040" stroke-width="1.1"/>
<text transform="translate(332.20,285.56) scale(1,1.15)" font-size="11.1" text-anchor="end" fill="#000" >1000</text>
<line x1="334.8" y1="255.00" x2="338.6" y2="255.00" stroke="#404040" stroke-width="1.1"/>
<text transform="translate(332.20,258.96) scale(1,1.15)" font-size="11.1" text-anchor="end" fill="#000" >1200</text>
<line x1="334.8" y1="228.40" x2="338.6" y2="228.40" stroke="#404040" stroke-width="1.1"/>
<text transform="translate(332.20,232.36) scale(1,1.15)" font-size="11.1" text-anchor="end" fill="#000" >1400</text>
<line x1="336.6" y1="374.70" x2="338.6" y2="374.70" stroke="#404040" stroke-width="1"/>
<line x1="336.6" y1="348.10" x2="338.6" y2="348.10" stroke="#404040" stroke-width="1"/>
<line x1="336.6" y1="321.50" x2="338.6" y2="321.50" stroke="#404040" stroke-width="1"/>
<line x1="336.6" y1="294.90" x2="338.6" y2="294.90" stroke="#404040" stroke-width="1"/>
<line x1="336.6" y1="268.30" x2="338.6" y2="268.30" stroke="#404040" stroke-width="1"/>
<line x1="336.6" y1="241.70" x2="338.6" y2="241.70" stroke="#404040" stroke-width="1"/>
<line x1="338.25" y1="401.6" x2="338.25" y2="404.8" stroke="#404040" stroke-width="1.1"/>
<text transform="translate(338.25,417.06) scale(1,1.15)" font-size="11.1" text-anchor="middle" fill="#000" >-2</text>
<line x1="362.30" y1="401.6" x2="362.30" y2="404.8" stroke="#404040" stroke-width="1.1"/>
<text transform="translate(362.30,417.06) scale(1,1.15)" font-size="11.1" text-anchor="middle" fill="#000" >0</text>
<line x1="386.35" y1="401.6" x2="386.35" y2="404.8" stroke="#404040" stroke-width="1.1"/>
<text transform="translate(386.35,417.06) scale(1,1.15)" font-size="11.1" text-anchor="middle" fill="#000" >2</text>
<line x1="410.40" y1="401.6" x2="410.40" y2="404.8" stroke="#404040" stroke-width="1.1"/>
<text transform="translate(410.40,417.06) scale(1,1.15)" font-size="11.1" text-anchor="middle" fill="#000" >4</text>
<line x1="434.45" y1="401.6" x2="434.45" y2="404.8" stroke="#404040" stroke-width="1.1"/>
<text transform="translate(434.45,417.06) scale(1,1.15)" font-size="11.1" text-anchor="middle" fill="#000" >6</text>
<line x1="458.50" y1="401.6" x2="458.50" y2="404.8" stroke="#404040" stroke-width="1.1"/>
<text transform="translate(458.50,417.06) scale(1,1.15)" font-size="11.1" text-anchor="middle" fill="#000" >8</text>
<line x1="482.55" y1="401.6" x2="482.55" y2="404.8" stroke="#404040" stroke-width="1.1"/>
<text transform="translate(482.55,417.06) scale(1,1.15)" font-size="11.1" text-anchor="middle" fill="#000" >10</text>
<line x1="506.60" y1="401.6" x2="506.60" y2="404.8" stroke="#404040" stroke-width="1.1"/>
<text transform="translate(506.60,417.06) scale(1,1.15)" font-size="11.1" text-anchor="middle" fill="#000" >12</text>
<line x1="530.65" y1="401.6" x2="530.65" y2="404.8" stroke="#404040" stroke-width="1.1"/>
<text transform="translate(530.65,417.06) scale(1,1.15)" font-size="11.1" text-anchor="middle" fill="#000" >14</text>
<line x1="554.70" y1="401.6" x2="554.70" y2="404.8" stroke="#404040" stroke-width="1.1"/>
<text transform="translate(554.70,417.06) scale(1,1.15)" font-size="11.1" text-anchor="middle" fill="#000" >16</text>
<line x1="350.28" y1="401.6" x2="350.28" y2="403.6" stroke="#404040" stroke-width="1"/>
<line x1="374.32" y1="401.6" x2="374.32" y2="403.6" stroke="#404040" stroke-width="1"/>
<line x1="398.38" y1="401.6" x2="398.38" y2="403.6" stroke="#404040" stroke-width="1"/>
<line x1="422.43" y1="401.6" x2="422.43" y2="403.6" stroke="#404040" stroke-width="1"/>
<line x1="446.48" y1="401.6" x2="446.48" y2="403.6" stroke="#404040" stroke-width="1"/>
<line x1="470.53" y1="401.6" x2="470.53" y2="403.6" stroke="#404040" stroke-width="1"/>
<line x1="494.58" y1="401.6" x2="494.58" y2="403.6" stroke="#404040" stroke-width="1"/>
<line x1="518.62" y1="401.6" x2="518.62" y2="403.6" stroke="#404040" stroke-width="1"/>
<line x1="542.67" y1="401.6" x2="542.67" y2="403.6" stroke="#404040" stroke-width="1"/>
<text x="446.40" y="433.90" font-size="16.15" text-anchor="middle" fill="#000" >TE (%)</text>
<text transform="translate(299.60,314.60) rotate(-90)" font-size="16.1" text-anchor="middle" fill="#000">UTS (MPa)</text>
<polygon points="364.50,285.92 365.17,287.83 367.20,287.87 365.58,289.10 366.17,291.04 364.50,289.88 362.83,291.04 363.42,289.10 361.80,287.87 363.83,287.83" fill="#111"/>
<polygon points="360.61,292.61 364.39,292.61 364.39,296.39 360.61,296.39" fill="#111"/>
<polygon points="371.43,302.18 374.57,302.18 374.57,305.32 371.43,305.32" fill="#f7e4e4" stroke="#111" stroke-width="0.6"/>
<clipPath id="h17"><rect x="369.50" y="300.25" width="7.00" height="3.50"/></clipPath>
<polygon points="371.43,302.18 374.57,302.18 374.57,305.32 371.43,305.32" fill="#111" stroke="#111" stroke-width="0.6" clip-path="url(#h17)"/>
<polygon points="362.50,305.57 364.51,309.07 360.49,309.07" fill="#f7e4e4" stroke="#111" stroke-width="0.6"/>
<clipPath id="h18"><rect x="359.00" y="304.00" width="7.00" height="3.50"/></clipPath>
<polygon points="362.50,305.57 364.51,309.07 360.49,309.07" fill="#111" stroke="#111" stroke-width="0.6" clip-path="url(#h18)"/>
<circle cx="364.50" cy="314.50" r="1.75" fill="#f7e4e4" stroke="#111" stroke-width="0.6"/>
<clipPath id="h19"><rect x="361.00" y="311.00" width="7.00" height="3.50"/></clipPath>
<circle cx="364.50" cy="314.50" r="1.75" fill="#111" stroke="#111" stroke-width="0.6" clip-path="url(#h19)"/>
<polygon points="395.07,275.75 398.57,273.74 398.57,277.76" fill="#f7e4e4" stroke="#111" stroke-width="0.6"/>
<clipPath id="h20"><rect x="393.50" y="272.25" width="3.50" height="7.00"/></clipPath>
<polygon points="395.07,275.75 398.57,273.74 398.57,277.76" fill="#111" stroke="#111" stroke-width="0.6" clip-path="url(#h20)"/>
<polygon points="362.32,334.50 365.82,332.49 365.82,336.51" fill="#f7e4e4" stroke="#111" stroke-width="0.6"/>
<clipPath id="h21"><rect x="360.75" y="331.00" width="3.50" height="7.00"/></clipPath>
<polygon points="362.32,334.50 365.82,332.49 365.82,336.51" fill="#111" stroke="#111" stroke-width="0.6" clip-path="url(#h21)"/>
<polygon points="377.68,342.50 374.18,340.49 374.18,344.51" fill="#f7e4e4" stroke="#111" stroke-width="0.6"/>
<clipPath id="h22"><rect x="375.75" y="339.00" width="3.50" height="7.00"/></clipPath>
<polygon points="377.68,342.50 374.18,340.49 374.18,344.51" fill="#111" stroke="#111" stroke-width="0.6" clip-path="url(#h22)"/>
<polygon points="362.25,350.18 364.26,346.68 360.24,346.68" fill="#f7e4e4" stroke="#111" stroke-width="0.6"/>
<clipPath id="h23"><rect x="358.75" y="344.75" width="7.00" height="3.50"/></clipPath>
<polygon points="362.25,350.18 364.26,346.68 360.24,346.68" fill="#111" stroke="#111" stroke-width="0.6" clip-path="url(#h23)"/>
<circle cx="440.50" cy="286.25" r="2.10" fill="#111"/>
<polygon points="434.25,323.92 434.92,325.83 436.95,325.87 435.33,327.10 435.92,329.04 434.25,327.88 432.58,329.04 433.17,327.10 431.55,325.87 433.58,325.83" fill="#111"/>
<polygon points="495.50,283.44 497.92,287.64 493.08,287.64" fill="#111"/>
<polygon points="535.00,284.31 537.41,280.11 532.59,280.11" fill="#111"/>
<polygon points="412.50,234.50 414.43,240.05 420.30,240.17 415.62,243.71 417.32,249.33 412.50,245.98 407.68,249.33 409.38,243.71 404.70,240.17 410.57,240.05" fill="#ff1a1a"/>
<text transform="translate(499.50,250.30) scale(1,1.07)" font-size="14.6" text-anchor="start" fill="#000" >100 °C</text>
<text transform="translate(460.50,317.50) scale(1,1.07)" font-size="14.6" text-anchor="start" fill="#000" >Re addition</text>
<text transform="translate(411.50,369.20) scale(1,1.07)" font-size="14.6" text-anchor="start" fill="#000" >Processed</text>
<polygon points="12.72,444.87 15.78,444.87 15.78,447.93 12.72,447.93" fill="#111"/>
<text x="26.75" y="449.30" font-size="8.69" text-anchor="start" fill="#111" >Rolled W [43]</text>
<polygon points="12.38,459.40 15.78,457.44 15.78,461.35" fill="#111"/>
<text x="26.75" y="462.30" font-size="8.69" text-anchor="start" fill="#111" >Rolled W-Y<tspan font-size="6" dy="2">2</tspan><tspan dy="-2">O</tspan><tspan font-size="6" dy="2">3</tspan><tspan dy="-2"> </tspan>[54]</text>
<circle cx="14.25" cy="472.00" r="1.70" fill="#111"/>
<text x="26.75" y="474.90" font-size="8.69" text-anchor="start" fill="#111" >Forged W [44]</text>
<circle cx="14.25" cy="484.30" r="1.35" fill="#fff" stroke="#111" stroke-width="0.6"/>
<clipPath id="h24"><rect x="11.55" y="481.60" width="5.40" height="2.70"/></clipPath>
<circle cx="14.25" cy="484.30" r="1.35" fill="#111" stroke="#111" stroke-width="0.6" clip-path="url(#h24)"/>
<text x="26.75" y="487.20" font-size="8.69" text-anchor="start" fill="#111" >Rolled W [16]</text>
<circle cx="14.25" cy="495.00" r="1.35" fill="#fff" stroke="#111" stroke-width="0.6"/>
<clipPath id="h25"><rect x="11.55" y="492.30" width="5.40" height="2.70"/></clipPath>
<circle cx="14.25" cy="495.00" r="1.35" fill="#111" stroke="#111" stroke-width="0.6" clip-path="url(#h25)"/>
<text x="26.75" y="497.90" font-size="8.69" text-anchor="start" fill="#111" >Rolled W-0.5HfC [12]</text>
<polygon points="14.25,504.55 16.20,506.50 14.25,508.45 12.29,506.50" fill="#111"/>
<text x="26.75" y="509.40" font-size="8.69" text-anchor="start" fill="#111" >Swaged K-doped W [43]</text>
<polygon points="14.25,517.45 15.80,519.00 14.25,520.55 12.70,519.00" fill="#fff" stroke="#111" stroke-width="0.6"/>
<clipPath id="h26"><rect x="11.55" y="516.30" width="5.40" height="2.70"/></clipPath>
<polygon points="14.25,517.45 15.80,519.00 14.25,520.55 12.70,519.00" fill="#111" stroke="#111" stroke-width="0.6" clip-path="url(#h26)"/>
<text x="26.75" y="521.90" font-size="8.69" text-anchor="start" fill="#111" >Swaged W-0.5ZrC [56]</text>
<circle cx="14.25" cy="531.50" r="1.70" fill="#1a1aff"/>
<text x="26.75" y="534.40" font-size="8.69" text-anchor="start" fill="#1a1aff" >SPSed W-0.2TaC [48]</text>
<polygon points="14.25,544.37 16.20,540.97 12.29,540.97" fill="#1a1aff"/>
<text x="26.75" y="545.40" font-size="8.69" text-anchor="start" fill="#1a1aff" >SPSed W-0.8TaC [48]</text>
<polygon points="14.25,551.11 14.79,552.66 16.43,552.69 15.12,553.68 15.60,555.26 14.25,554.32 12.90,555.26 13.38,553.68 12.07,552.69 13.71,552.66" fill="#1a1aff"/>
<text x="26.75" y="556.30" font-size="8.69" text-anchor="start" fill="#1a1aff" >SPSed W-0.2Zr [41]</text>
<polygon points="14.25,564.62 15.80,567.32 12.70,567.32" fill="#fff" stroke="#1a1aff" stroke-width="0.6"/>
<clipPath id="h27"><rect x="11.55" y="563.40" width="5.40" height="2.70"/></clipPath>
<polygon points="14.25,564.62 15.80,567.32 12.70,567.32" fill="#1a1aff" stroke="#1a1aff" stroke-width="0.6" clip-path="url(#h27)"/>
<text x="26.75" y="569.00" font-size="8.69" text-anchor="start" fill="#1a1aff" >Annealed SPSed W-0.5ZrC-1Re [52]</text>
<circle cx="172.50" cy="446.40" r="1.70" fill="#111"/>
<text x="184.50" y="449.30" font-size="8.69" text-anchor="start" fill="#111" >Rolled W-3Re [43]</text>
<polygon points="174.37,459.40 170.97,457.44 170.97,461.35" fill="#111"/>
<text x="184.50" y="462.30" font-size="8.69" text-anchor="start" fill="#111" >Swaged W-7Re [55]</text>
<polygon points="171.28,470.79 173.72,470.79 173.72,473.21 171.28,473.21" fill="#fff" stroke="#111" stroke-width="0.6"/>
<clipPath id="h28"><rect x="169.80" y="469.30" width="5.40" height="2.70"/></clipPath>
<polygon points="171.28,470.79 173.72,470.79 173.72,473.21 171.28,473.21" fill="#111" stroke="#111" stroke-width="0.6" clip-path="url(#h28)"/>
<text x="184.50" y="474.90" font-size="8.69" text-anchor="start" fill="#111" >Rolled W-0.5TaC [48]</text>
<polygon points="171.01,484.30 173.72,482.75 173.72,485.85" fill="#fff" stroke="#111" stroke-width="0.6"/>
<clipPath id="h29"><rect x="169.80" y="481.60" width="2.70" height="5.40"/></clipPath>
<polygon points="171.01,484.30 173.72,482.75 173.72,485.85" fill="#111" stroke="#111" stroke-width="0.6" clip-path="url(#h29)"/>
<text x="184.50" y="487.20" font-size="8.69" text-anchor="start" fill="#111" >Rolled W [45]</text>
<polygon points="170.97,493.47 174.03,493.47 174.03,496.53 170.97,496.53" fill="#111"/>
<text x="183.75" y="497.90" font-size="8.69" text-anchor="start" fill="#111" >Annealed Rolled W-0.5HfC [12]</text>
<circle cx="172.50" cy="506.50" r="1.70" fill="#111"/>
<text x="184.50" y="509.40" font-size="8.69" text-anchor="start" fill="#111" >Rolled W [44]</text>
<polygon points="171.01,519.00 173.72,517.45 173.72,520.55" fill="#fff" stroke="#111" stroke-width="0.6"/>
<clipPath id="h30"><rect x="169.80" y="516.30" width="2.70" height="5.40"/></clipPath>
<polygon points="171.01,519.00 173.72,517.45 173.72,520.55" fill="#111" stroke="#111" stroke-width="0.6" clip-path="url(#h30)"/>
<text x="183.75" y="521.90" font-size="8.69" text-anchor="start" fill="#111" >HERFed W-Y<tspan font-size="6" dy="2">2</tspan><tspan dy="-2">O</tspan><tspan font-size="6" dy="2">3</tspan><tspan dy="-2"> </tspan>[57]</text>
<polygon points="172.50,529.63 174.46,533.03 170.54,533.03" fill="#1a1aff"/>
<text x="183.75" y="534.40" font-size="8.69" text-anchor="start" fill="#1a1aff" >SPSed W-0.5TaC [48]</text>
<polygon points="172.50,540.54 174.46,542.50 172.50,544.46 170.54,542.50" fill="#1a1aff"/>
<text x="183.75" y="545.40" font-size="8.69" text-anchor="start" fill="#1a1aff" >SPSed W-1TaC [48]</text>
<circle cx="172.50" cy="553.40" r="1.70" fill="#1a1aff"/>
<text x="183.50" y="556.30" font-size="8.69" text-anchor="start" fill="#1a1aff" >SPSed W-0.2Zr-Y<tspan font-size="6" dy="2">2</tspan><tspan dy="-2">O</tspan><tspan font-size="6" dy="2">3</tspan><tspan dy="-2"> </tspan>[41]</text>
<polygon points="172.50,567.59 174.05,564.88 170.95,564.88" fill="#fff" stroke="#1a1aff" stroke-width="0.6"/>
<clipPath id="h31"><rect x="169.80" y="563.40" width="5.40" height="2.70"/></clipPath>
<polygon points="172.50,567.59 174.05,564.88 170.95,564.88" fill="#1a1aff" stroke="#1a1aff" stroke-width="0.6" clip-path="url(#h31)"/>
<text x="183.75" y="569.00" font-size="8.69" text-anchor="start" fill="#1a1aff" >SPSed W-0.5HfC [53]</text>
<polygon points="319.50,444.53 321.45,447.93 317.55,447.93" fill="#111"/>
<text x="331.75" y="449.30" font-size="8.69" text-anchor="start" fill="#111" >Rolled K-doped W-3Re [43]</text>
<circle cx="319.50" cy="459.40" r="1.70" fill="#111"/>
<text x="331.75" y="462.30" font-size="8.69" text-anchor="start" fill="#111" >Swaged W-2Re [55]</text>
<circle cx="319.50" cy="472.00" r="1.35" fill="#fff" stroke="#111" stroke-width="0.6"/>
<clipPath id="h32"><rect x="316.80" y="469.30" width="5.40" height="2.70"/></clipPath>
<circle cx="319.50" cy="472.00" r="1.35" fill="#111" stroke="#111" stroke-width="0.6" clip-path="url(#h32)"/>
<text x="331.75" y="474.90" font-size="8.69" text-anchor="start" fill="#111" >Annealed Rolled W-0.5TaC [48]</text>
<polygon points="320.99,484.30 318.29,482.75 318.29,485.85" fill="#fff" stroke="#111" stroke-width="0.6"/>
<clipPath id="h33"><rect x="319.50" y="481.60" width="2.70" height="5.40"/></clipPath>
<polygon points="320.99,484.30 318.29,482.75 318.29,485.85" fill="#111" stroke="#111" stroke-width="0.6" clip-path="url(#h33)"/>
<text x="331.75" y="487.20" font-size="8.69" text-anchor="start" fill="#111" >Annealed Rolled W [45]</text>
<circle cx="321.25" cy="495.00" r="1.70" fill="#111"/>
<text x="333.25" y="497.90" font-size="8.69" text-anchor="start" fill="#111" >Rolled W-0.5TiC [49]</text>
<polygon points="319.50,507.99 321.05,505.29 317.95,505.29" fill="#fff" stroke="#111" stroke-width="0.6"/>
<clipPath id="h34"><rect x="316.80" y="503.80" width="5.40" height="2.70"/></clipPath>
<polygon points="319.50,507.99 321.05,505.29 317.95,505.29" fill="#111" stroke="#111" stroke-width="0.6" clip-path="url(#h34)"/>
<text x="330.75" y="509.40" font-size="8.69" text-anchor="start" fill="#111" >Swaged W-Y<tspan font-size="6" dy="2">2</tspan><tspan dy="-2">O</tspan><tspan font-size="6" dy="2">3</tspan><tspan dy="-2"> </tspan>[16]</text>
<polygon points="319.50,520.49 321.05,517.78 317.95,517.78" fill="#fff" stroke="#111" stroke-width="0.6"/>
<clipPath id="h35"><rect x="316.80" y="516.30" width="5.40" height="2.70"/></clipPath>
<polygon points="319.50,520.49 321.05,517.78 317.95,517.78" fill="#111" stroke="#111" stroke-width="0.6" clip-path="url(#h35)"/>
<text x="330.75" y="521.90" font-size="8.69" text-anchor="start" fill="#111" >Swaged W-0.2Zr-Y<tspan font-size="6" dy="2">2</tspan><tspan dy="-2">O</tspan><tspan font-size="6" dy="2">3</tspan><tspan dy="-2"> </tspan>[50]</text>
<circle cx="317.50" cy="531.50" r="1.70" fill="#1a1aff"/>
<text x="330.00" y="534.40" font-size="8.69" text-anchor="start" fill="#1a1aff" >SPSed W-1ZrC [20]</text>
<polygon points="315.63,542.50 319.03,540.54 319.03,544.46" fill="#1a1aff"/>
<text x="330.00" y="545.40" font-size="8.69" text-anchor="start" fill="#1a1aff" >SPSed W-0.2ZrC [20]</text>
<circle cx="317.50" cy="553.40" r="1.70" fill="#1a1aff"/>
<text x="329.25" y="556.30" font-size="8.69" text-anchor="start" fill="#1a1aff" >SPSed W-0.5Y<tspan font-size="6" dy="2">2</tspan><tspan dy="-2">O</tspan><tspan font-size="6" dy="2">3</tspan><tspan dy="-2"> </tspan>[21]</text>
<circle cx="317.50" cy="566.10" r="1.35" fill="#fff" stroke="#1a1aff" stroke-width="0.6"/>
<clipPath id="h36"><rect x="314.80" y="563.40" width="5.40" height="2.70"/></clipPath>
<circle cx="317.50" cy="566.10" r="1.35" fill="#1a1aff" stroke="#1a1aff" stroke-width="0.6" clip-path="url(#h36)"/>
<text x="329.25" y="569.00" font-size="8.69" text-anchor="start" fill="#1a1aff" >SPSed sol-gel W-1Y<tspan font-size="6" dy="2">2</tspan><tspan dy="-2">O</tspan><tspan font-size="6" dy="2">3</tspan><tspan dy="-2"> </tspan>[42]</text>
<polygon points="464.25,448.27 466.20,444.87 462.30,444.87" fill="#111"/>
<text x="476.75" y="449.30" font-size="8.69" text-anchor="start" fill="#111" >Rolled W-3Re-1La<tspan font-size="6" dy="2">2</tspan><tspan dy="-2">O</tspan><tspan font-size="6" dy="2">3</tspan><tspan dy="-2"> </tspan>[43]</text>
<polygon points="464.25,457.10 464.79,458.66 466.43,458.69 465.12,459.68 465.60,461.26 464.25,460.32 462.90,461.26 463.38,459.68 462.07,458.69 463.71,458.66" fill="#111"/>
<text x="476.75" y="462.30" font-size="8.69" text-anchor="start" fill="#111" >Swaged W-25Re [55]</text>
<polygon points="464.25,470.51 465.80,473.21 462.70,473.21" fill="#fff" stroke="#111" stroke-width="0.6"/>
<clipPath id="h37"><rect x="461.55" y="469.30" width="5.40" height="2.70"/></clipPath>
<polygon points="464.25,470.51 465.80,473.21 462.70,473.21" fill="#111" stroke="#111" stroke-width="0.6" clip-path="url(#h37)"/>
<text x="477.50" y="474.90" font-size="8.69" text-anchor="start" fill="#111" >Rolled W-0.2Zr-Y<tspan font-size="6" dy="2">2</tspan><tspan dy="-2">O</tspan><tspan font-size="6" dy="2">3</tspan><tspan dy="-2"> </tspan>[16]</text>
<circle cx="464.25" cy="484.30" r="1.35" fill="#fff" stroke="#111" stroke-width="0.6"/>
<clipPath id="h38"><rect x="461.55" y="481.60" width="5.40" height="2.70"/></clipPath>
<circle cx="464.25" cy="484.30" r="1.35" fill="#111" stroke="#111" stroke-width="0.6" clip-path="url(#h38)"/>
<text x="477.50" y="487.20" font-size="8.69" text-anchor="start" fill="#111" >Rolled W-0.5ZrC [45]</text>
<polygon points="466.25,493.51 467.80,496.21 464.70,496.21" fill="#fff" stroke="#111" stroke-width="0.6"/>
<clipPath id="h39"><rect x="463.55" y="492.30" width="5.40" height="2.70"/></clipPath>
<polygon points="466.25,493.51 467.80,496.21 464.70,496.21" fill="#111" stroke="#111" stroke-width="0.6" clip-path="url(#h39)"/>
<text x="478.75" y="497.90" font-size="8.69" text-anchor="start" fill="#111" >Annealed Rolled W-0.5TiC [49]</text>
<polygon points="466.25,504.20 466.79,505.76 468.43,505.79 467.12,506.78 467.60,508.36 466.25,507.42 464.90,508.36 465.38,506.78 464.07,505.79 465.71,505.76" fill="#111"/>
<text x="478.75" y="509.40" font-size="8.69" text-anchor="start" fill="#111" >Annealed Rolled W-0.5ZrC [45]</text>
<polygon points="465.47,517.47 468.53,517.47 468.53,520.53 465.47,520.53" fill="#1a1aff"/>
<text x="479.50" y="521.90" font-size="8.69" text-anchor="start" fill="#1a1aff" >SPSed W [48]</text>
<circle cx="466.00" cy="531.50" r="1.35" fill="#fff" stroke="#1a1aff" stroke-width="0.6"/>
<clipPath id="h40"><rect x="463.30" y="528.80" width="5.40" height="2.70"/></clipPath>
<circle cx="466.00" cy="531.50" r="1.35" fill="#1a1aff" stroke="#1a1aff" stroke-width="0.6" clip-path="url(#h40)"/>
<text x="478.25" y="534.40" font-size="8.69" text-anchor="start" fill="#1a1aff" >SPSed W-0.5ZrC-1Re [52]</text>
<polygon points="467.87,542.50 464.47,540.54 464.47,544.46" fill="#1a1aff"/>
<text x="478.25" y="545.40" font-size="8.69" text-anchor="start" fill="#1a1aff" >SPSed W-0.5ZrC [20]</text>
<polygon points="464.79,552.18 467.21,552.18 467.21,554.62 464.79,554.62" fill="#fff" stroke="#1a1aff" stroke-width="0.6"/>
<clipPath id="h41"><rect x="463.30" y="550.70" width="5.40" height="2.70"/></clipPath>
<polygon points="464.79,552.18 467.21,552.18 467.21,554.62 464.79,554.62" fill="#1a1aff" stroke="#1a1aff" stroke-width="0.6" clip-path="url(#h41)"/>
<text x="478.25" y="556.30" font-size="8.69" text-anchor="start" fill="#1a1aff" >SPSed W-1Y<tspan font-size="6" dy="2">2</tspan><tspan dy="-2">O</tspan><tspan font-size="6" dy="2">3</tspan><tspan dy="-2"> </tspan>[21]</text>
<polygon points="466.25,560.80 467.52,564.45 471.39,564.53 468.30,566.87 469.42,570.57 466.25,568.36 463.08,570.57 464.20,566.87 461.11,564.53 464.98,564.45" fill="#ff1a1a"/>
<text x="476.25" y="569.00" font-size="8.69" text-anchor="start" fill="#ee1111" >HERF-W (This work)</text>
</svg></body></html>
